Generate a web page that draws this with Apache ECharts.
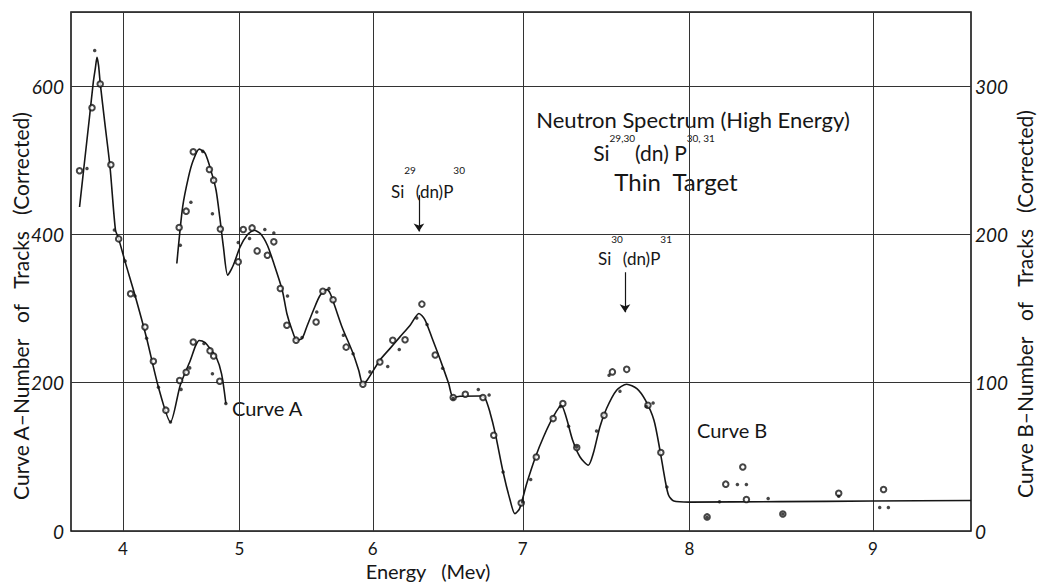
<!DOCTYPE html>
<html><head><meta charset="utf-8">
<script src="https://cdn.jsdelivr.net/npm/echarts@6/dist/echarts.min.js"></script>
<style>html,body{margin:0;padding:0;background:#fff}#c{width:1037px;height:582px}</style>
</head><body><div id="c"></div>
<script>
// ---- tick labels ----
const energyTicks = [4, 5, 6, 7, 8, 9];
const leftTicks = [0, 200, 400, 600];
const rightTicks = [0, 100, 200, 300];

// ---- Curve A (left axis, tracks) : drawn curve ----
const curveAE = [3.585, 3.63, 3.68, 3.72, 3.74, 3.755, 3.77, 3.786, 3.83, 3.879, 3.93, 3.96, 4.02, 4.11, 4.215, 4.32, 4.425, 4.51, 4.595, 4.64, 4.67, 4.72, 4.76, 4.81, 4.855, 4.89];
const curveAV = [437, 493, 555, 606, 625, 639, 628, 604, 550, 491, 406, 394, 363, 318, 260, 194, 147, 197, 230, 250, 257, 254, 246, 235, 212, 172];
// Curve A measured points
const aOpenE = [3.585, 3.707, 3.786, 3.887, 3.96, 4.07, 4.20, 4.275, 4.385, 4.504, 4.56, 4.62, 4.76, 4.79, 4.84];
const aOpenV = [486, 571, 603, 494, 394, 320, 275, 229, 163, 203, 214, 255, 243, 236, 202];
const aDotE = [3.658, 3.733, 3.92, 4.02, 4.11, 4.215, 4.32, 4.425, 4.516, 4.59, 4.71, 4.78, 4.89];
const aDotV = [489, 648, 406, 364, 317, 260, 194, 147, 191, 220, 253, 212, 172];

// ---- Curve B (right axis, tracks) : drawn curve ----
const curveBE = [4.48, 4.53, 4.58, 4.62, 4.67, 4.72, 4.775, 4.81, 4.84, 4.87, 4.905, 4.95, 5.005, 5.06, 5.115, 5.165, 5.22, 5.27, 5.335, 5.37, 5.41, 5.445, 5.485, 5.52, 5.57, 5.62, 5.67, 5.695, 5.73, 5.78, 5.86, 5.90, 5.93, 5.96, 6.05, 6.12, 6.19, 6.26, 6.32, 6.36, 6.41, 6.465, 6.52, 6.55, 6.595, 6.73, 6.76, 6.79, 6.825, 6.875, 6.92, 6.95, 6.98, 7.025, 7.08, 7.13, 7.19, 7.24, 7.27, 7.31, 7.355, 7.405, 7.435, 7.475, 7.515, 7.575, 7.635, 7.695, 7.745, 7.795, 7.83, 7.86, 7.88, 7.91, 8.0, 8.5, 9.0, 9.5];
const curveBV = [180.4, 218.6, 238.8, 250, 257.5, 254.6, 241, 229.8, 211.8, 191.6, 172.5, 179.2, 191.6, 199.5, 202.8, 200.6, 192.7, 180.4, 162.4, 146.7, 135.4, 128.6, 129.8, 137.6, 148.9, 159, 162.8, 160, 151, 137.6, 119.7, 108.4, 99, 101.7, 115.2, 123, 130.9, 138.8, 146.7, 142.6, 129.8, 115.2, 99.4, 90, 90.9, 91, 89.3, 80.3, 65.7, 39.8, 20.7, 11.7, 15.1, 32, 49.9, 63.4, 76.9, 84.8, 76.9, 61.2, 49.9, 44.3, 52.2, 70.2, 82.6, 94.9, 99, 96, 88.2, 74.7, 54.4, 34.2, 24.1, 20.2, 19.5, 19.8, 20.2, 20.6];
// Curve B measured points
const bOpenE = [4.50, 4.56, 4.62, 4.755, 4.79, 4.845, 4.99, 5.03, 5.10, 5.14, 5.22, 5.27, 5.32, 5.37, 5.44, 5.59, 5.64, 5.715, 5.81, 5.93, 6.05, 6.14, 6.225, 6.34, 6.43, 6.55, 6.63, 6.745, 6.815, 6.99, 7.085, 7.19, 7.25, 7.335, 7.50, 7.55, 7.635, 7.76, 7.835, 8.10, 8.205, 8.30, 8.32, 8.52, 8.82, 9.055];
const bOpenV = [204.7, 215.7, 255.7, 243.8, 236.6, 203.7, 181.5, 203.3, 204.4, 188.9, 186, 195, 163.5, 138.8, 128.7, 141, 161.7, 156, 124, 99, 114, 128.6, 129, 153, 118.7, 90, 92.2, 90, 64.6, 18.9, 49.9, 75.8, 86, 56.3, 78, 107.3, 109, 84.8, 52.9, 9.5, 31.6, 43.2, 21.3, 11.5, 25.5, 28];
const bDotE = [4.51, 4.60, 4.70, 4.78, 4.99, 5.08, 5.20, 5.27, 5.375, 5.485, 5.595, 5.685, 5.79, 5.86, 5.98, 6.105, 6.185, 6.305, 6.375, 6.48, 6.55, 6.715, 6.785, 6.875, 7.00, 7.05, 7.235, 7.285, 7.335, 7.455, 7.53, 7.595, 7.75, 7.79, 7.87, 8.10, 8.17, 8.27, 8.32, 8.44, 8.52, 8.82, 9.035, 9.08];
const bDotV = [192.7, 221.7, 256, 214, 194.6, 197.3, 203.3, 201, 158.5, 130.5, 147.7, 163.5, 132, 119.6, 107.3, 111, 122.4, 143.7, 139.2, 109.8, 89.3, 95.4, 91.7, 39.8, 19.5, 34.7, 84, 70.6, 56.7, 67.5, 105, 94.2, 84, 86.3, 29.7, 9.2, 19.7, 31.4, 31.4, 21.9, 11.5, 23.5, 15.9, 15.9];

// ---- reaction arrows (energy, from, to in left-axis units) ----
const arrowE = [6.32, 7.625];
const arrowFrom = [453, 349];
const arrowTo = [404, 295];

// Non-linear energy scale of the original graph paper
const K = 0.0558;
function u(E) { return E + K * (E - 6.5) * (E - 6.5); }
function invU(x) { return 6.5 + (-1 + Math.sqrt(1 + 4 * K * (x - 6.5))) / (2 * K); }
const pts = (es, vs) => es.map((e, i) => [u(e), vs[i]]);

const FONT = 'Lato';
const INK = '#161616';

const chart = echarts.init(document.getElementById('c'), null, { renderer: 'svg' });
const sup = { fontSize: 10, verticalAlign: 'top', lineHeight: 12, fontFamily: FONT, fill: INK, color: INK };
const base = (fs, lh) => ({ fontSize: fs, verticalAlign: 'middle', lineHeight: lh, fontFamily: FONT, fill: INK, color: INK });

chart.setOption({
  backgroundColor: '#fff',
  animation: false,
  grid: { left: 71, right: 66, top: 12, bottom: 51, show: true, borderColor: INK, borderWidth: 1.6, backgroundColor: 'transparent' },
  xAxis: {
    type: 'value', min: u(3.5), max: u(9.5),
    axisLine: { show: false },
    axisTick: { show: false, customValues: energyTicks.map(u) },
    axisLabel: { customValues: energyTicks.map(u), formatter: v => String(Math.round(invU(v))), margin: 9, fontSize: 17, fontFamily: FONT, color: INK },
    splitLine: { show: true, lineStyle: { color: '#333', width: 1 } }
  },
  yAxis: [
    { type: 'value', min: 0, max: 700, interval: 200, position: 'left',
      axisLine: { show: false }, axisTick: { show: false },
      axisLabel: { showMaxLabel: false, margin: 7, fontSize: 19, fontStyle: 'italic', fontFamily: FONT, color: INK },
      splitLine: { show: true, lineStyle: { color: '#333', width: 1 } } },
    { type: 'value', min: 0, max: 350, interval: 100, position: 'right',
      axisLine: { show: false }, axisTick: { show: false },
      axisLabel: { showMaxLabel: false, margin: 4, fontSize: 19, fontStyle: 'italic', fontFamily: FONT, color: INK },
      splitLine: { show: false } }
  ],
  series: [
    { name: 'Curve A', type: 'line', yAxisIndex: 0, data: pts(curveAE, curveAV), smooth: 0.25, showSymbol: false,
      lineStyle: { color: INK, width: 1.6 }, z: 3,
      markLine: { silent: true, symbol: ['none', 'arrow'], symbolSize: 8, label: { show: false },
        lineStyle: { color: INK, width: 1.2, type: 'solid' },
        data: arrowE.map((e, i) => [{ coord: [u(e), arrowFrom[i]] }, { coord: [u(e), arrowTo[i]] }]) } },
    { name: 'A open', type: 'scatter', yAxisIndex: 0, data: pts(aOpenE, aOpenV), symbol: 'emptyCircle', symbolSize: 5.5,
      itemStyle: { color: INK, borderWidth: 0.9 }, z: 4 },
    { name: 'A dot', type: 'scatter', yAxisIndex: 0, data: pts(aDotE, aDotV), symbol: 'circle', symbolSize: 3.5,
      itemStyle: { color: INK }, z: 5 },
    { name: 'Curve B', type: 'line', yAxisIndex: 1, data: pts(curveBE, curveBV), smooth: 0.25, showSymbol: false,
      lineStyle: { color: INK, width: 1.6 }, z: 3 },
    { name: 'B open', type: 'scatter', yAxisIndex: 1, data: pts(bOpenE, bOpenV), symbol: 'emptyCircle', symbolSize: 5.5,
      itemStyle: { color: INK, borderWidth: 0.9 }, z: 4 },
    { name: 'B dot', type: 'scatter', yAxisIndex: 1, data: pts(bDotE, bDotV), symbol: 'circle', symbolSize: 3.5,
      itemStyle: { color: INK }, z: 5 }
  ],
  graphic: [
    { type: 'text', x: 20, y: 306, rotation: Math.PI / 2, style: { text: 'Curve A\u2013Number   of   Tracks   (Corrected)', fontSize: 21, fontFamily: FONT, fill: INK, align: 'center', verticalAlign: 'middle' } },
    { type: 'text', x: 1024, y: 304, rotation: Math.PI / 2, style: { text: 'Curve B\u2013Number   of   Tracks   (Corrected)', fontSize: 21, fontFamily: FONT, fill: INK, align: 'center', verticalAlign: 'middle' } },
    { type: 'text', x: 428, y: 571, style: { text: 'Energy   (Mev)', fontSize: 20, fontFamily: FONT, fill: INK, align: 'center', verticalAlign: 'middle' } },
    { type: 'text', x: 693, y: 119, style: { text: 'Neutron Spectrum (High Energy)', fontSize: 22, fontFamily: FONT, fill: INK, align: 'center', verticalAlign: 'middle' } },
    { type: 'text', x: 654, y: 152, style: { text: '{b|Si}{s|29,30}{b|(dn) P}{s|30, 31}', align: 'center', verticalAlign: 'middle',
        rich: { b: base(21, 38), s: sup } } },
    { type: 'text', x: 676, y: 181, style: { text: 'Thin  Target', fontSize: 24, fontFamily: FONT, fill: INK, align: 'center', verticalAlign: 'middle' } },
    { type: 'text', x: 428, y: 191, style: { text: '{b|Si}{s|29}{b|(dn)P}{s|30}', align: 'center', verticalAlign: 'middle',
        rich: { b: base(17, 52), s: sup } } },
    { type: 'text', x: 635, y: 258, style: { text: '{b|Si}{s|30}{b|(dn)P}{s|31}', align: 'center', verticalAlign: 'middle',
        rich: { b: base(17, 48), s: sup } } },
    { type: 'text', x: 232, y: 408, style: { text: 'Curve A', fontSize: 20, fontFamily: FONT, fill: INK, align: 'left', verticalAlign: 'middle' } },
    { type: 'text', x: 697, y: 430, style: { text: 'Curve B', fontSize: 20, fontFamily: FONT, fill: INK, align: 'left', verticalAlign: 'middle' } }
  ]
});
</script></body></html>
